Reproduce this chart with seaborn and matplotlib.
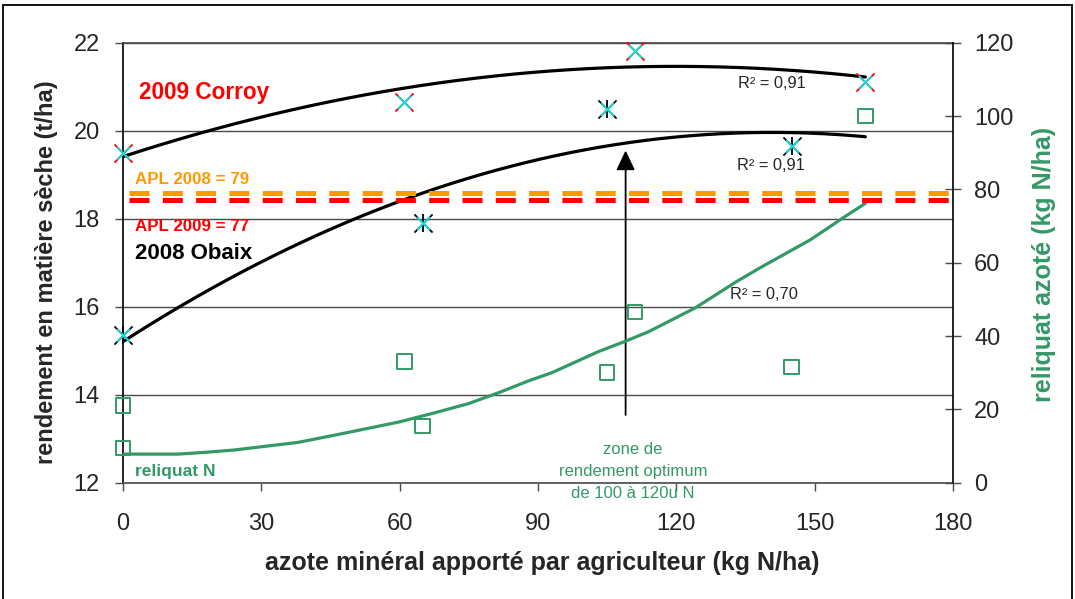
import numpy as np
import pandas as pd
import matplotlib
matplotlib.use("Agg")
import matplotlib.pyplot as plt
from matplotlib.patches import Rectangle
import seaborn as sns

# Rendement en matière sèche (t/ha) selon la dose d'azote apportée
dose_corroy = [0, 61, 111, 161]
rdt_corroy = [19.5, 20.65, 21.8, 21.1]
dose_obaix = [0, 65, 105, 145]
rdt_obaix = [15.35, 17.9, 20.5, 19.65]

# Reliquat azoté mesuré (kg N/ha)
dose_reliquat = [0, 0, 61, 65, 105, 111, 145, 161]
reliquat = [21, 9.5, 33, 15.5, 30, 46.5, 31.5, 100]

# Courbe de tendance du reliquat
tendance_dose = [0, 12, 18, 24, 30, 38, 48, 60, 68, 75, 82, 88, 93, 103, 109, 114,
                 124, 133, 138, 149, 156, 161]
tendance_reliquat = [7.8, 7.8, 8.3, 8.9, 9.8, 11.0, 13.5, 16.6, 19.2, 21.6, 24.8,
                     27.8, 30.0, 35.7, 38.6, 41.2, 47.6, 54.8, 58.5, 66.2, 72.1, 76.2]

# Azote potentiellement lessivable (kg N/ha)
apl_2008 = 79
apl_2009 = 77

r2_corroy = "0,91"
r2_obaix = "0,91"
r2_reliquat = "0,70"

x_ticks = [0, 30, 60, 90, 120, 150, 180]
y_ticks = [12, 14, 16, 18, 20, 22]
y2_ticks = [0, 20, 40, 60, 80, 100, 120]

RED = "#FF0000"
ORANGE = "#FF9900"
GREEN = "#339966"
CYAN = "#22D6D6"
GRID = "#4A4A4A"

sns.set_theme(style="white")
plt.rcParams["font.family"] = ["Liberation Sans", "DejaVu Sans"]

fig = plt.figure(figsize=(10.75, 5.99), dpi=100)
ax = fig.add_axes([0.11442, 0.19416, 0.77209, 0.73456])
ax2 = ax.twinx()

ax.set_xlim(0, 180)
ax.set_ylim(12, 22)
ax2.set_ylim(0, 120)
ax.set_xticks(x_ticks)
ax.set_yticks(y_ticks)
ax2.set_yticks(y2_ticks)

ax.grid(axis="y", color=GRID, linewidth=1)
ax.grid(axis="x", visible=False)
ax2.grid(False)

for side in ["top", "bottom"]:
    ax.spines[side].set_color(GRID)
    ax.spines[side].set_linewidth(1.2)
ax.spines["left"].set_color("black")
ax.spines["left"].set_linewidth(1.2)
ax.spines["right"].set_visible(False)
for side in ["top", "bottom", "left"]:
    ax2.spines[side].set_visible(False)
ax2.spines["right"].set_color("black")
ax2.spines["right"].set_linewidth(1.2)

ax.tick_params(axis="y", direction="out", length=5.8, width=1, color=GRID,
               labelsize=17, pad=10.8, left=True)
ax.tick_params(axis="x", direction="out", length=5.8, width=1, color=GRID,
               labelsize=17, pad=16, bottom=True)
ax2.tick_params(axis="y", direction="inout", length=11.5, width=1, color=GRID,
                labelsize=17, pad=9.4, right=True)

# Courbes de tendance polynomiales (ordre 2) du rendement
x_fit = np.linspace(0, max(max(dose_corroy), max(dose_obaix)), 200)
for dose, rdt in [(dose_corroy, rdt_corroy), (dose_obaix, rdt_obaix)]:
    coef = np.polyfit(dose, rdt, 2)
    fit = pd.DataFrame({"dose": x_fit, "rdt": np.polyval(coef, x_fit)})
    sns.lineplot(data=fit, x="dose", y="rdt", ax=ax, color="black",
                 linewidth=2.3, zorder=3)

# Points de rendement
pts = dict(ax=ax, clip_on=False)
sns.scatterplot(x=dose_corroy, y=rdt_corroy, marker="x", s=170,
                color=RED, linewidth=1.3, zorder=4, **pts)
sns.scatterplot(x=dose_corroy, y=rdt_corroy, marker="x", s=85,
                color=CYAN, linewidth=1.5, zorder=5, **pts)
sns.scatterplot(x=dose_obaix, y=rdt_obaix, marker="x", s=170,
                color="black", linewidth=1.3, zorder=4, **pts)
sns.scatterplot(x=dose_obaix, y=rdt_obaix, marker="|", s=170,
                color="black", linewidth=1.3, zorder=4, **pts)
sns.scatterplot(x=dose_obaix, y=rdt_obaix, marker="x", s=85,
                color=CYAN, linewidth=1.5, zorder=5, **pts)

# Reliquat azoté et sa tendance
sns.lineplot(x=tendance_dose, y=tendance_reliquat, ax=ax2, color=GREEN,
             linewidth=2.3, zorder=3)
sns.scatterplot(x=dose_reliquat, y=reliquat, ax=ax2, marker="s", s=110,
                facecolor="none", edgecolor=GREEN, linewidth=1.4, zorder=4,
                clip_on=False)

# Seuils APL
dash = (5.46, (4.0, 2.66))
ax2.axhline(apl_2008, color=ORANGE, linewidth=3.6, linestyle=dash, zorder=6)
ax2.axhline(apl_2009, color=RED, linewidth=3.6, linestyle=dash, zorder=6)

ax.set_xlabel("")
ax.set_ylabel("")
ax2.set_ylabel("")

# Zone de rendement optimum
ax.annotate("", xy=(109, 19.55), xytext=(109, 13.54),
            arrowprops=dict(arrowstyle="-|>,head_length=0.8,head_width=0.38",
                            color="black", lw=1.3, shrinkA=0, shrinkB=0,
                            mutation_scale=15), zorder=6)
ax.text(110.6, 12.25, "zone de\nrendement optimum\nde 100 à 120u N", color=GREEN,
        fontsize=12, ha="center", va="center", linespacing=1.58, clip_on=False,
        zorder=7)

bold = dict(fontweight="bold", ha="left", va="center")
ax.text(3.5, 20.86, "2009 Corroy", color=RED, fontsize=16.3, **bold)
ax.text(2.6, 18.88, f"APL 2008 = {apl_2008}", color=ORANGE, fontsize=12.2, **bold)
ax.text(2.6, 17.83, f"APL 2009 = {apl_2009}", color=RED, fontsize=12.2, **bold)
ax.text(2.6, 17.22, "2008 Obaix", color="black", fontsize=16, **bold)
ax.text(2.6, 12.25, "reliquat N", color=GREEN, fontsize=12.5, **bold)

ax.text(133.4, 21.08, f"R² = {r2_corroy}", fontsize=11.8, ha="left", va="center")
ax.text(133.2, 19.22, f"R² = {r2_obaix}", fontsize=11.8, ha="left", va="center")
ax.text(131.6, 16.27, f"R² = {r2_reliquat}", fontsize=11.8, ha="left", va="center")

# Titres des axes
ax.text(-0.0918, 0.479, "rendement en matière sèche (t/ha)", transform=ax.transAxes,
        rotation=90, fontsize=17, fontweight="bold", ha="center", va="center")
ax.text(1.1096, 0.497, "reliquat azoté (kg N/ha)", transform=ax.transAxes,
        rotation=90, fontsize=18, fontweight="bold", color=GREEN,
        ha="center", va="center")
ax.text(0.505, -0.1825, "azote minéral apporté par agriculteur (kg N/ha)",
        transform=ax.transAxes, fontsize=18, fontweight="bold",
        ha="center", va="center")

# Cadre du graphique
fig.patches.append(Rectangle((3 / 1075, -4 / 599), 1069 / 1075, 598 / 599,
                             transform=fig.transFigure, fill=False,
                             edgecolor="black", linewidth=1.3))

fig.savefig("out.png", dpi=100)
